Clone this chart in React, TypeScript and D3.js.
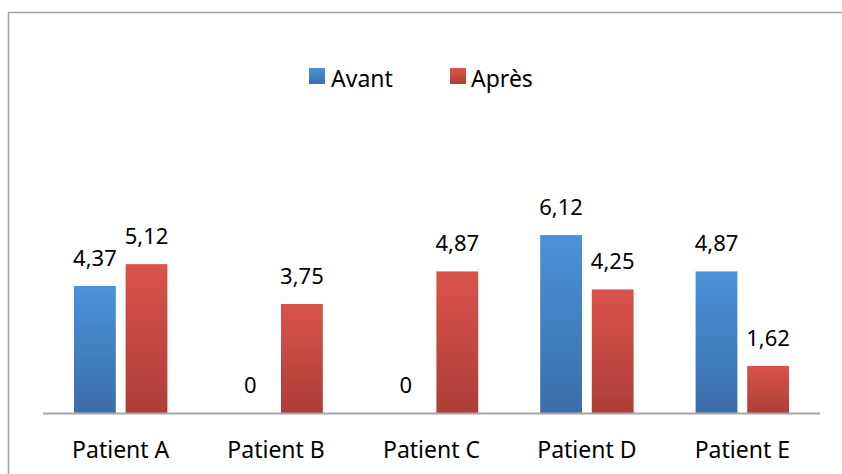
import React from "react";
import * as d3 from "d3";

const categories = ["Patient A", "Patient B", "Patient C", "Patient D", "Patient E"];
const seriesNames = ["Avant", "Après"];
const avant = [4.37, 0, 0, 6.12, 4.87];
const apres = [5.12, 3.75, 4.87, 4.25, 1.62];
const seriesValues = [avant, apres];

const W = 842;
const H = 474;
const FONT = "'Noto Sans', 'Open Sans', sans-serif";

export default function App() {
  const x0 = d3.scaleBand<string>().domain(categories).range([43, 820]).padding(0);
  const step = x0.step();
  const x1 = d3
    .scaleBand<string>()
    .domain(seriesNames)
    .range([31, step - 31])
    .paddingInner(0.19)
    .paddingOuter(0);
  const y = d3.scaleLinear().domain([0, 8]).range([413, 180.4]);
  const fmt = (v: number) => (v === 0 ? "0" : d3.format(".2f")(v).replace(".", ","));
  const gradIds = ["gBlue", "gRed"];

  return (
    <svg
      width={W}
      height={H}
      style={{ position: "absolute", left: 0, top: 0, background: "#fff" }}
    >
      <defs>
        <linearGradient id="gBlue" x1="0" y1="0" x2="0" y2="1">
          <stop offset="0%" stopColor="#4a92db" />
          <stop offset="100%" stopColor="#3a6ea8" />
        </linearGradient>
        <linearGradient id="gRed" x1="0" y1="0" x2="0" y2="1">
          <stop offset="0%" stopColor="#da534b" />
          <stop offset="100%" stopColor="#ad3e37" />
        </linearGradient>
      </defs>
      <rect x={0} y={0} width={W} height={H} fill="#fff" />
      <path d="M8.5,480 L8.5,12.5 L850,12.5" fill="none" stroke="#a3a3a3" strokeWidth={1.5} />

      {/* Legend */}
      <g fontFamily={FONT} fontSize={23} fill="#000">
        <rect x={309} y={68} width={16} height={16} fill="url(#gBlue)" />
        <text x={331} y={87}>Avant</text>
        <rect x={450} y={68} width={16} height={16} fill="url(#gRed)" />
        <text x={471} y={87}>Après</text>
      </g>

      {/* Bars */}
      {categories.map((c, i) => (
        <g key={c} transform={`translate(${x0(c)},0)`}>
          {seriesNames.map((s, j) => {
            const v = seriesValues[j][i];
            const bx = x1(s)!;
            const bw = x1.bandwidth();
            return (
              <g key={s}>
                {v > 0 && (
                  <rect
                    x={bx}
                    y={y(v)}
                    width={bw}
                    height={y(0) - y(v)}
                    fill={`url(#${gradIds[j]})`}
                  />
                )}
                <text
                  x={bx + bw / 2}
                  y={y(v) - 20}
                  textAnchor="middle"
                  fontFamily={FONT}
                  fontSize={22}
                  fill="#000"
                >
                  {fmt(v)}
                </text>
              </g>
            );
          })}
        </g>
      ))}

      {/* Axis */}
      <line x1={43} x2={820} y1={413.5} y2={413.5} stroke="#a6a6a6" strokeWidth={1.8} />
      {categories.map((c) => (
        <text
          key={c}
          x={x0(c)! + step / 2}
          y={458}
          textAnchor="middle"
          fontFamily={FONT}
          fontSize={23}
          fill="#000"
        >
          {c}
        </text>
      ))}
    </svg>
  );
}
